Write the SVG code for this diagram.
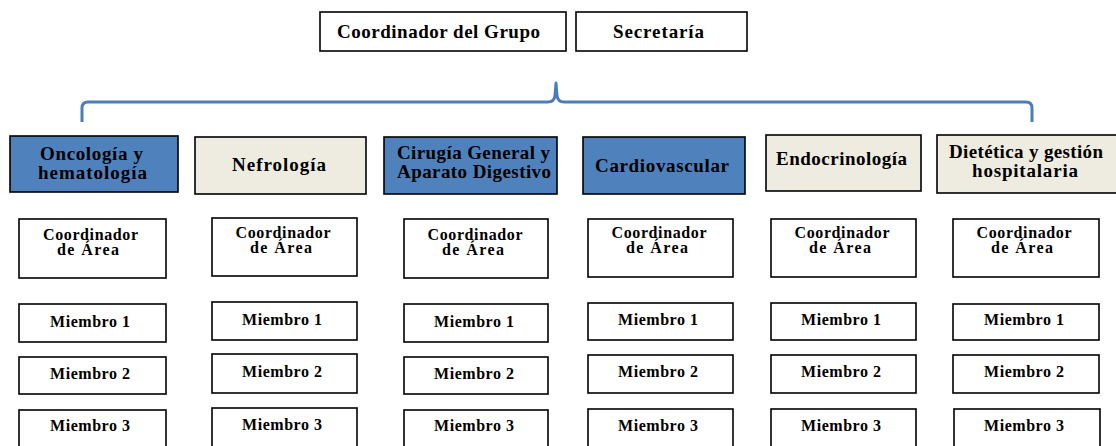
<svg xmlns="http://www.w3.org/2000/svg" width="1116" height="446" viewBox="0 0 1116 446">
<style>
.box{fill:#fff;stroke:#000;stroke-width:1.6}
.blue{fill:#4F81BD;stroke:#000;stroke-width:1.6}
.beige{fill:#EEECE1;stroke:#000;stroke-width:1.6}
text{font-family:"Liberation Serif","Times New Roman",serif;font-weight:bold;fill:#000;text-anchor:middle}
.t17{font-size:19px}
.t14{font-size:16px}
.brace{fill:none;stroke:#4A7EBB;stroke-width:3;stroke-linejoin:round}
</style>
<rect width="1116" height="446" fill="#fff"/>
<g id="connectors">
<path class="brace" d="M82 122 L82 108 Q82 102 88 102 L548 102 Q554 102 555 96 L556 83 L557 96 Q558 102 564 102 L1026 102 Q1032 102 1032 108 L1032 122"/>
</g>
<g id="coord-grupo"><rect class="box" x="320" y="12" width="246" height="39"/><text class="t17" x="438.5" y="38" textLength="203" lengthAdjust="spacing">Coordinador del Grupo</text></g>
<g id="secretaria"><rect class="box" x="576" y="12" width="171" height="39"/><text class="t17" x="658.5" y="38" textLength="91" lengthAdjust="spacing">Secretaría</text></g>

<g id="oncologia"><rect class="blue" x="10" y="136" width="168" height="56"/><text class="t17" x="91.5" y="160" textLength="103" lengthAdjust="spacing">Oncología y</text><text class="t17" x="92.5" y="179" textLength="109" lengthAdjust="spacing">hematología</text></g>
<g id="nefrologia"><rect class="beige" x="195" y="137" width="171" height="57"/><text class="t17" x="279" y="171" textLength="94" lengthAdjust="spacing">Nefrología</text></g>
<g id="cirugia"><rect class="blue" x="384" y="137" width="173" height="57"/><text class="t17" x="473.5" y="159" textLength="153" lengthAdjust="spacing">Cirugía General y</text><text class="t17" x="474" y="178" textLength="154" lengthAdjust="spacing">Aparato Digestivo</text></g>
<g id="cardiovascular"><rect class="blue" x="583" y="137" width="162" height="57"/><text class="t17" x="662" y="172" textLength="134" lengthAdjust="spacing">Cardiovascular</text></g>
<g id="endocrinologia"><rect class="beige" x="766" y="135" width="155" height="56"/><text class="t17" x="841.5" y="165" textLength="131" lengthAdjust="spacing">Endocrinología</text></g>
<g id="dietetica"><rect class="beige" x="937" y="135" width="181" height="58"/><text class="t17" x="1026" y="158" textLength="154" lengthAdjust="spacing">Dietética y gestión</text><text class="t17" x="1025" y="177" textLength="106" lengthAdjust="spacing">hospitalaria</text></g>

<g id="col1-coord"><rect class="box" x="19" y="219" width="147" height="59"/><text class="t14" x="90.5" y="240" textLength="95" lengthAdjust="spacing">Coordinador</text><text class="t14" x="88" y="255" textLength="62" lengthAdjust="spacing">de Área</text></g>
<g id="col1-m1"><rect class="box" x="19" y="304" width="147" height="38"/><text class="t14" x="90" y="327" textLength="80" lengthAdjust="spacing">Miembro 1</text></g>
<g id="col1-m2"><rect class="box" x="19" y="357" width="147" height="37"/><text class="t14" x="90" y="379" textLength="80" lengthAdjust="spacing">Miembro 2</text></g>
<g id="col1-m3"><rect class="box" x="19" y="410" width="147" height="40"/><text class="t14" x="90" y="431" textLength="80" lengthAdjust="spacing">Miembro 3</text></g>

<g id="col2-coord"><rect class="box" x="212" y="218" width="145" height="58"/><text class="t14" x="283" y="238" textLength="95" lengthAdjust="spacing">Coordinador</text><text class="t14" x="281" y="253" textLength="62" lengthAdjust="spacing">de Área</text></g>
<g id="col2-m1"><rect class="box" x="212" y="302" width="145" height="38"/><text class="t14" x="282" y="325" textLength="80" lengthAdjust="spacing">Miembro 1</text></g>
<g id="col2-m2"><rect class="box" x="212" y="354" width="145" height="39"/><text class="t14" x="282" y="377" textLength="80" lengthAdjust="spacing">Miembro 2</text></g>
<g id="col2-m3"><rect class="box" x="212" y="408" width="145" height="42"/><text class="t14" x="282" y="430" textLength="80" lengthAdjust="spacing">Miembro 3</text></g>

<g id="col3-coord"><rect class="box" x="404" y="219" width="144" height="59"/><text class="t14" x="475" y="240" textLength="95" lengthAdjust="spacing">Coordinador</text><text class="t14" x="473" y="255" textLength="62" lengthAdjust="spacing">de Área</text></g>
<g id="col3-m1"><rect class="box" x="404" y="304" width="144" height="38"/><text class="t14" x="474" y="327" textLength="80" lengthAdjust="spacing">Miembro 1</text></g>
<g id="col3-m2"><rect class="box" x="404" y="357" width="144" height="37"/><text class="t14" x="474" y="379" textLength="80" lengthAdjust="spacing">Miembro 2</text></g>
<g id="col3-m3"><rect class="box" x="404" y="410" width="144" height="40"/><text class="t14" x="474" y="431" textLength="80" lengthAdjust="spacing">Miembro 3</text></g>

<g id="col4-coord"><rect class="box" x="588" y="219" width="145" height="58"/><text class="t14" x="659" y="238" textLength="95" lengthAdjust="spacing">Coordinador</text><text class="t14" x="657" y="253" textLength="62" lengthAdjust="spacing">de Área</text></g>
<g id="col4-m1"><rect class="box" x="588" y="303" width="145" height="37"/><text class="t14" x="658" y="325" textLength="80" lengthAdjust="spacing">Miembro 1</text></g>
<g id="col4-m2"><rect class="box" x="588" y="355" width="145" height="38"/><text class="t14" x="658" y="377" textLength="80" lengthAdjust="spacing">Miembro 2</text></g>
<g id="col4-m3"><rect class="box" x="588" y="409" width="145" height="41"/><text class="t14" x="658" y="431" textLength="80" lengthAdjust="spacing">Miembro 3</text></g>

<g id="col5-coord"><rect class="box" x="771" y="219" width="145" height="58"/><text class="t14" x="842" y="238" textLength="95" lengthAdjust="spacing">Coordinador</text><text class="t14" x="840" y="253" textLength="62" lengthAdjust="spacing">de Área</text></g>
<g id="col5-m1"><rect class="box" x="771" y="303" width="145" height="37"/><text class="t14" x="841" y="325" textLength="80" lengthAdjust="spacing">Miembro 1</text></g>
<g id="col5-m2"><rect class="box" x="771" y="355" width="145" height="38"/><text class="t14" x="841" y="377" textLength="80" lengthAdjust="spacing">Miembro 2</text></g>
<g id="col5-m3"><rect class="box" x="771" y="409" width="145" height="41"/><text class="t14" x="841" y="431" textLength="80" lengthAdjust="spacing">Miembro 3</text></g>

<g id="col6-coord"><rect class="box" x="953" y="219" width="146" height="58"/><text class="t14" x="1024" y="238" textLength="95" lengthAdjust="spacing">Coordinador</text><text class="t14" x="1022" y="253" textLength="62" lengthAdjust="spacing">de Área</text></g>
<g id="col6-m1"><rect class="box" x="953" y="304" width="146" height="36"/><text class="t14" x="1024" y="325" textLength="80" lengthAdjust="spacing">Miembro 1</text></g>
<g id="col6-m2"><rect class="box" x="953" y="355" width="146" height="38"/><text class="t14" x="1024" y="377" textLength="80" lengthAdjust="spacing">Miembro 2</text></g>
<g id="col6-m3"><rect class="box" x="954" y="409" width="146" height="41"/><text class="t14" x="1024" y="431" textLength="80" lengthAdjust="spacing">Miembro 3</text></g>
</svg>
